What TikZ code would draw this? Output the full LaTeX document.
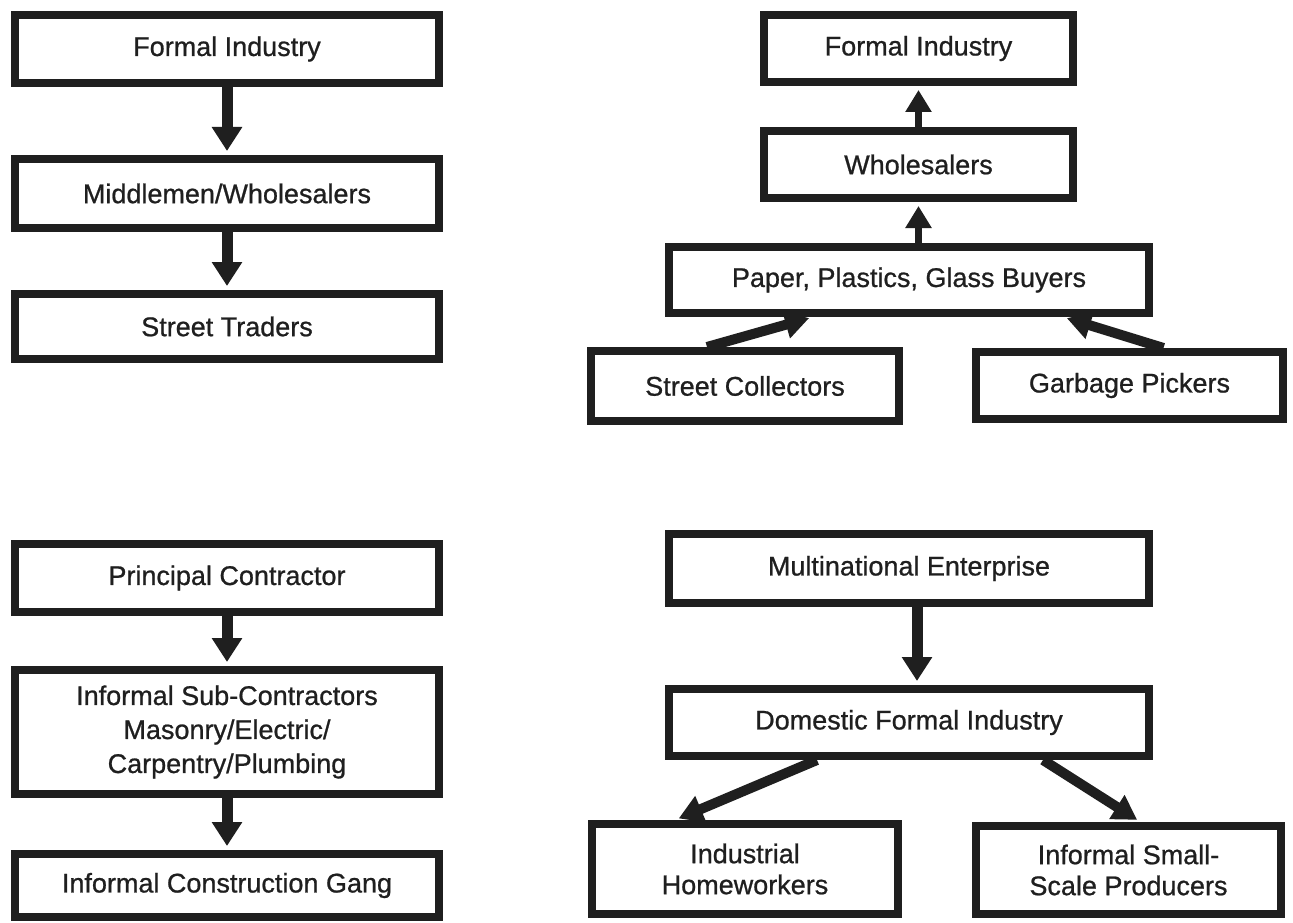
\documentclass[tikz,border=0pt]{standalone}
\usepackage{fontspec}
\setmainfont{Liberation Sans}
\newfontfamily\boxfont{Liberation Sans}[FakeBold=0.8]
\usetikzlibrary{arrows.meta}
\begin{document}
\begin{tikzpicture}[x=1pt,y=-1pt,
  box/.style={draw=black!88, line width=8pt, inner sep=0pt, align=center,
    font=\boxfont\fontsize{27}{34}\selectfont, text=black!88},
  arr/.style={draw=black!88, line width=11pt, -{Triangle[length=24pt,width=29pt]}, shorten >=4pt},
  thinarr/.style={draw=black!88, line width=7pt, -{Triangle[length=22pt,width=25pt]}, shorten >=4pt},
  diagarr/.style={draw=black!88, line width=10pt, -{Triangle[length=24pt,width=27pt]}, shorten >=4pt}]
\useasboundingbox (0,0) rectangle (1293,923);
\fill[white] (0,0) rectangle (1293,923);

% top left
\node[box, minimum width=424pt, minimum height=68pt] (b1) at (227,49) {Formal Industry};
\node[box, minimum width=424pt, minimum height=69pt] (b2) at (227,193.5) {Middlemen/Wholesalers};
\node[box, minimum width=424pt, minimum height=65pt] (b3) at (227,326.5) {Street Traders};
\draw[arr] (b1.south) -- (b2.north);
\draw[arr] (b2.south) -- (b3.north);

% bottom left
\node[box, minimum width=424pt, minimum height=68pt] (b4) at (227,578) {Principal Contractor};
\node[box, minimum width=424pt, minimum height=124pt] (b5) at (227,732) {Informal Sub-Contractors\\Masonry/Electric/\\Carpentry/Plumbing};
\node[box, minimum width=424pt, minimum height=63pt] (b6) at (227,885.5) {Informal Construction Gang};
\draw[arr] (b4.south) -- (b5.north);
\draw[arr] (b5.south) -- (b6.north);

% top right
\node[box, minimum width=309pt, minimum height=67pt] (t1) at (918.5,48.5) {Formal Industry};
\node[box, minimum width=309pt, minimum height=67pt] (t2) at (918.5,164.5) {Wholesalers};
\node[box, minimum width=480pt, minimum height=66pt] (t3) at (909,280) {Paper, Plastics, Glass Buyers};
\node[box, minimum width=308pt, minimum height=70pt] (t4) at (745,386) {Street Collectors};
\node[box, minimum width=307pt, minimum height=67pt] (t5) at (1129.5,385.5) {Garbage Pickers};
\draw[thinarr] (t2.north) -- (t1.south);
\draw[thinarr] (t3.north -| t2.south) -- (t2.south);
\draw[diagarr] ([xshift=-38pt]t4.north) -- ([xshift=-96pt]t3.south);
\draw[diagarr] ([xshift=34pt]t5.north) -- ([xshift=154pt]t3.south);

% bottom right
\node[box, minimum width=480pt, minimum height=69pt] (m1) at (909,568.5) {Multinational Enterprise};
\node[box, minimum width=480pt, minimum height=67pt] (m2) at (909,722.5) {Domestic Formal Industry};
\node[box, minimum width=306pt, minimum height=90pt, font=\boxfont\fontsize{27}{31}\selectfont] (m3) at (745,869) {Industrial\\Homeworkers};
\node[box, minimum width=305pt, minimum height=88pt, font=\boxfont\fontsize{27}{31}\selectfont] (m4) at (1128.5,870) {Informal Small-\\Scale Producers};
\draw[arr] (m1.south -| 917,0) -- (m2.north -| 917,0);
\draw[diagarr] ([xshift=-92pt]m2.south) -- ([xshift=-70pt]m3.north);
\draw[diagarr] ([xshift=134pt]m2.south) -- ([xshift=12pt]m4.north);
\end{tikzpicture}
\end{document}
